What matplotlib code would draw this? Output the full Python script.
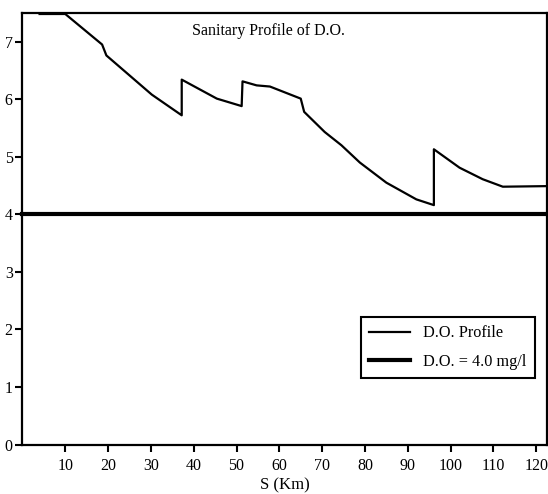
import numpy as np
import matplotlib.pyplot as plt

plt.rcParams['font.family'] = ['Liberation Serif', 'DejaVu Serif']

# D.O. profile (km, mg/l)
s_km = [4.0, 10.0, 18.6, 19.6, 30.2, 37.2, 37.2, 45.4, 51.2, 51.4, 54.7, 57.8,
        65.0, 65.8, 70.6, 74.5, 78.8, 85.0, 92.0, 96.1, 96.1, 102.1, 107.5,
        112.2, 122.5]
do_mgl = [7.48, 7.48, 6.95, 6.76, 6.08, 5.72, 6.34, 6.01, 5.88, 6.31, 6.24, 6.22,
          6.01, 5.78, 5.43, 5.20, 4.90, 4.55, 4.26, 4.16, 5.13, 4.81, 4.61,
          4.48, 4.49]
do_limit = 4.0

x_ticks = list(range(10, 130, 10))
y_ticks = list(range(0, 8))

fig = plt.figure(figsize=(5.48, 4.94), dpi=100)
ax = fig.add_axes([0.041, 0.100, 0.957, 0.874])

ax.plot(s_km, do_mgl, color='black', lw=1.6, label='D.O. Profile')
ax.axhline(do_limit, color='black', lw=3.0, label='D.O. = 4.0 mg/l', clip_on=False)

ax.set_xlim(0, 122.5)
ax.set_ylim(0, 7.5)
ax.set_xticks(x_ticks)
ax.set_yticks(y_ticks)
ax.tick_params(axis='both', direction='out', length=5, width=1.5,
               labelsize=11.5, pad=2)
ax.tick_params(axis='x', pad=5)
for sp in ax.spines.values():
    sp.set_linewidth(1.6)

ax.set_xlabel('S (Km)', fontsize=12, labelpad=2)
ax.text(0.469, 0.957, 'Sanitary Profile of D.O.', transform=ax.transAxes,
        fontsize=11.5, ha='center', va='center')

leg = ax.legend(loc='lower right', bbox_to_anchor=(0.977, 0.155), fontsize=11.7,
                fancybox=False, framealpha=1, edgecolor='black', borderaxespad=0,
                handlelength=2.5, handletextpad=0.85, borderpad=0.5,
                labelspacing=0.75)
leg.get_frame().set_linewidth(1.5)

fig.savefig('out.png', dpi=100)
